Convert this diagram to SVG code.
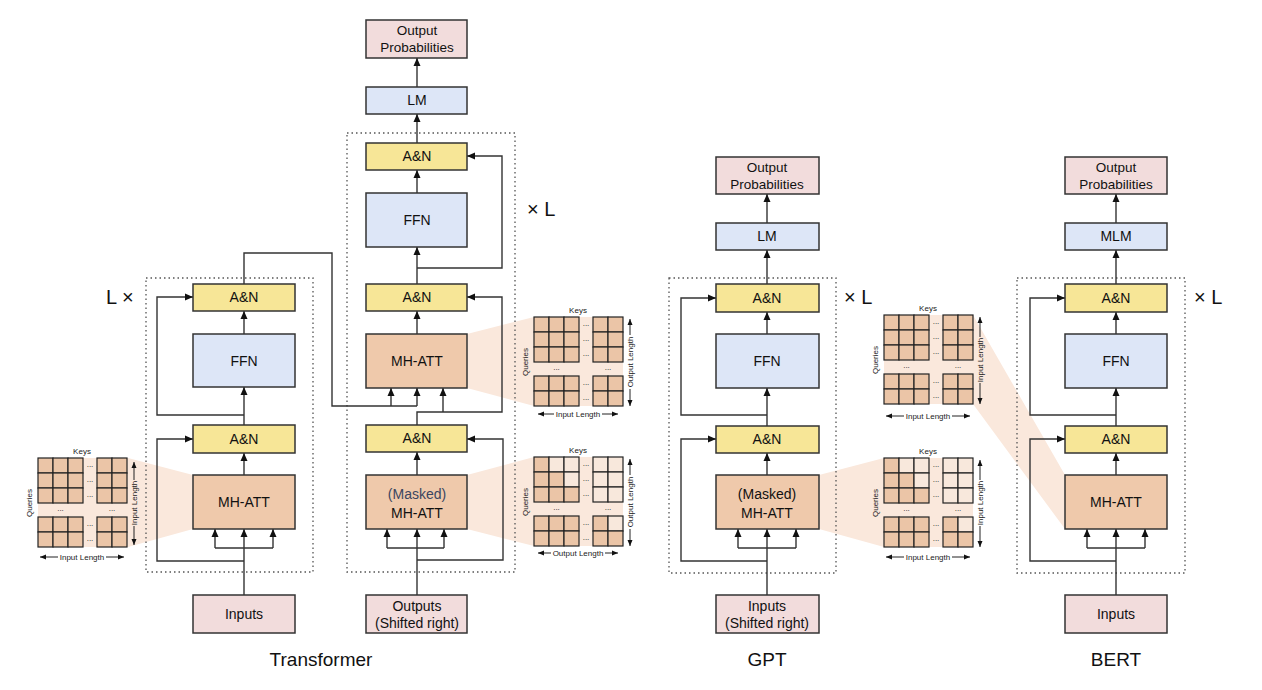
<svg xmlns="http://www.w3.org/2000/svg" xmlns:xlink="http://www.w3.org/1999/xlink" width="1262" height="690" viewBox="0 0 1262 690">
<style>
  .box { stroke: #333; stroke-width: 1.5; }
  .prob { fill: #f2dcdc; }
  .blue { fill: #dde6f7; }
  .an { fill: #f7e697; }
  .att { fill: #efc9ab; }
  .lbl { font-family: "Liberation Sans", Arial, sans-serif; font-size: 14px; fill: #111; text-anchor: middle; }
  .lbl2 { font-family: "Liberation Sans", Arial, sans-serif; font-size: 13.5px; fill: #111; text-anchor: middle; }
  .title { font-family: "Liberation Sans", Arial, sans-serif; font-size: 19px; fill: #111; text-anchor: middle; }
  .mult { font-family: "Liberation Sans", Arial, sans-serif; font-size: 20px; fill: #111; }
  .conn path { fill: none; stroke: #333; stroke-width: 1.4; }
  .dotted { fill: none; stroke: #555; stroke-width: 1.3; stroke-dasharray: 1.5 3; }
  .fan { fill: #fae8dc; }
  .cd { fill: #ebc5a7; stroke: #222; stroke-width: 1.2; }
  .cl { fill: #f8e8dc; stroke: #222; stroke-width: 1.2; }
  .small { font-family: "Liberation Sans", Arial, sans-serif; font-size: 8px; fill: #222; text-anchor: middle; }
  .dots { font-family: "Liberation Sans", Arial, sans-serif; font-size: 8px; fill: #222; text-anchor: middle; }
  .mline { fill: none; stroke: #222; stroke-width: 1; }
</style>
<defs>
  <marker id="arr" markerUnits="userSpaceOnUse" markerWidth="8" markerHeight="8" refX="8" refY="4" orient="auto">
    <path d="M0,0.5 L8,4 L0,7.5 z" fill="#111"/>
  </marker>
  <marker id="sarr" markerUnits="userSpaceOnUse" markerWidth="6" markerHeight="6" refX="6" refY="3" orient="auto">
    <path d="M0,0.5 L6,3 L0,5.5 z" fill="#111"/>
  </marker>
  <!-- full attention matrix grid, origin at top-left cell -->
  <g id="gridFull">
    <rect class="cd" x="0" y="0" width="15" height="15"/><rect class="cd" x="15" y="0" width="15" height="15"/><rect class="cd" x="30" y="0" width="15" height="15"/>
    <rect class="cd" x="0" y="15" width="15" height="15"/><rect class="cd" x="15" y="15" width="15" height="15"/><rect class="cd" x="30" y="15" width="15" height="15"/>
    <rect class="cd" x="0" y="30" width="15" height="15"/><rect class="cd" x="15" y="30" width="15" height="15"/><rect class="cd" x="30" y="30" width="15" height="15"/>
    <rect class="cd" x="59" y="0" width="15" height="15"/><rect class="cd" x="74" y="0" width="15" height="15"/>
    <rect class="cd" x="59" y="15" width="15" height="15"/><rect class="cd" x="74" y="15" width="15" height="15"/>
    <rect class="cd" x="59" y="30" width="15" height="15"/><rect class="cd" x="74" y="30" width="15" height="15"/>
    <rect class="cd" x="0" y="59" width="15" height="15"/><rect class="cd" x="15" y="59" width="15" height="15"/><rect class="cd" x="30" y="59" width="15" height="15"/>
    <rect class="cd" x="0" y="74" width="15" height="15"/><rect class="cd" x="15" y="74" width="15" height="15"/><rect class="cd" x="30" y="74" width="15" height="15"/>
    <rect class="cd" x="59" y="59" width="15" height="15"/><rect class="cd" x="74" y="59" width="15" height="15"/>
    <rect class="cd" x="59" y="74" width="15" height="15"/><rect class="cd" x="74" y="74" width="15" height="15"/>
  </g>
  <g id="gridMasked">
    <rect class="cd" x="0" y="0" width="15" height="15"/><rect class="cl" x="15" y="0" width="15" height="15"/><rect class="cl" x="30" y="0" width="15" height="15"/>
    <rect class="cd" x="0" y="15" width="15" height="15"/><rect class="cd" x="15" y="15" width="15" height="15"/><rect class="cl" x="30" y="15" width="15" height="15"/>
    <rect class="cd" x="0" y="30" width="15" height="15"/><rect class="cd" x="15" y="30" width="15" height="15"/><rect class="cd" x="30" y="30" width="15" height="15"/>
    <rect class="cl" x="59" y="0" width="15" height="15"/><rect class="cl" x="74" y="0" width="15" height="15"/>
    <rect class="cl" x="59" y="15" width="15" height="15"/><rect class="cl" x="74" y="15" width="15" height="15"/>
    <rect class="cl" x="59" y="30" width="15" height="15"/><rect class="cl" x="74" y="30" width="15" height="15"/>
    <rect class="cd" x="0" y="59" width="15" height="15"/><rect class="cd" x="15" y="59" width="15" height="15"/><rect class="cd" x="30" y="59" width="15" height="15"/>
    <rect class="cd" x="0" y="74" width="15" height="15"/><rect class="cd" x="15" y="74" width="15" height="15"/><rect class="cd" x="30" y="74" width="15" height="15"/>
    <rect class="cd" x="59" y="59" width="15" height="15"/><rect class="cl" x="74" y="59" width="15" height="15"/>
    <rect class="cd" x="59" y="74" width="15" height="15"/><rect class="cd" x="74" y="74" width="15" height="15"/>
  </g>
  <g id="mdots">
    <text class="dots" x="52" y="9">...</text>
    <text class="dots" x="52" y="24">...</text>
    <text class="dots" x="52" y="39">...</text>
    <text class="dots" x="52" y="68">...</text>
    <text class="dots" x="52" y="83">...</text>
    <text class="dots" x="22.5" y="53">...</text>
    <text class="dots" x="74" y="53">...</text>
  </g>
</defs>

<!-- attention fans -->
<g id="fans">
  <polygon class="fan" points="38,458 128,458 193,475 193,529 128,547 38,547"/>
  <polygon class="fan" points="467,334 534,317 623,317 623,406 534,406 467,388"/>
  <polygon class="fan" points="467,475 534,457 623,457 623,546 534,546 467,529"/>
  <polygon class="fan" points="819,475 884,458 973,458 973,547 884,547 819,529"/>
  <polygon class="fan" points="884,315 973,315 1065,475 1065,529 973,404 884,404"/>
</g>

<!-- attention matrices -->
<g id="matrix-encoder" transform="translate(38,458)">
  <use xlink:href="#gridFull" href="#gridFull"/>
  <use xlink:href="#mdots" href="#mdots"/>
  <text class="small" x="44" y="-4">Keys</text>
  <text class="small" transform="translate(-6,45) rotate(-90)">Queries</text>
  <text class="small" transform="translate(99,45) rotate(-90)">Input Length</text>
  <path class="mline" d="M96,22 V4" marker-end="url(#sarr)"/>
  <path class="mline" d="M96,68 V87" marker-end="url(#sarr)"/>
  <text class="small" x="44" y="102">Input Length</text>
  <path class="mline" d="M20,99 H2" marker-end="url(#sarr)"/>
  <path class="mline" d="M68,99 H86" marker-end="url(#sarr)"/>
</g>
<g id="matrix-cross" transform="translate(534,317)">
  <use xlink:href="#gridFull" href="#gridFull"/>
  <use xlink:href="#mdots" href="#mdots"/>
  <text class="small" x="44" y="-4">Keys</text>
  <text class="small" transform="translate(-6,45) rotate(-90)">Queries</text>
  <text class="small" transform="translate(99,45) rotate(-90)">Output Length</text>
  <path class="mline" d="M96,18 V2" marker-end="url(#sarr)"/>
  <path class="mline" d="M96,72 V89" marker-end="url(#sarr)"/>
  <text class="small" x="44" y="100">Input Length</text>
  <path class="mline" d="M20,97 H4" marker-end="url(#sarr)"/>
  <path class="mline" d="M68,97 H84" marker-end="url(#sarr)"/>
</g>
<g id="matrix-masked-dec" transform="translate(534,457)">
  <use xlink:href="#gridMasked" href="#gridMasked"/>
  <use xlink:href="#mdots" href="#mdots"/>
  <text class="small" x="44" y="-4">Keys</text>
  <text class="small" transform="translate(-6,45) rotate(-90)">Queries</text>
  <text class="small" transform="translate(99,45) rotate(-90)">Output Length</text>
  <path class="mline" d="M96,18 V2" marker-end="url(#sarr)"/>
  <path class="mline" d="M96,72 V89" marker-end="url(#sarr)"/>
  <text class="small" x="44" y="99">Output Length</text>
  <path class="mline" d="M17,96 H4" marker-end="url(#sarr)"/>
  <path class="mline" d="M71,96 H84" marker-end="url(#sarr)"/>
</g>
<g id="matrix-bert" transform="translate(884,315)">
  <use xlink:href="#gridFull" href="#gridFull"/>
  <use xlink:href="#mdots" href="#mdots"/>
  <text class="small" x="44" y="-4">Keys</text>
  <text class="small" transform="translate(-6,45) rotate(-90)">Queries</text>
  <text class="small" transform="translate(99,45) rotate(-90)">Input Length</text>
  <path class="mline" d="M96,22 V2" marker-end="url(#sarr)"/>
  <path class="mline" d="M96,68 V89" marker-end="url(#sarr)"/>
  <text class="small" x="44" y="104">Input Length</text>
  <path class="mline" d="M20,101 H2" marker-end="url(#sarr)"/>
  <path class="mline" d="M68,101 H86" marker-end="url(#sarr)"/>
</g>
<g id="matrix-gpt" transform="translate(884,458)">
  <use xlink:href="#gridMasked" href="#gridMasked"/>
  <use xlink:href="#mdots" href="#mdots"/>
  <text class="small" x="44" y="-4">Keys</text>
  <text class="small" transform="translate(-6,45) rotate(-90)">Queries</text>
  <text class="small" transform="translate(99,45) rotate(-90)">Input Length</text>
  <path class="mline" d="M96,22 V2" marker-end="url(#sarr)"/>
  <path class="mline" d="M96,68 V89" marker-end="url(#sarr)"/>
  <text class="small" x="44" y="102">Input Length</text>
  <path class="mline" d="M20,99 H2" marker-end="url(#sarr)"/>
  <path class="mline" d="M68,99 H86" marker-end="url(#sarr)"/>
</g>

<!-- dotted layer boxes -->
<g id="layer-boxes">
  <rect class="dotted" x="146" y="278" width="167" height="294"/>
  <rect class="dotted" x="347" y="133" width="168" height="439"/>
  <rect class="dotted" x="669" y="278" width="167" height="295"/>
  <rect class="dotted" x="1017" y="278" width="168" height="295"/>
  <text class="mult" x="106" y="304">L ×</text>
  <text class="mult" x="527" y="216">× L</text>
  <text class="mult" x="844" y="304">× L</text>
  <text class="mult" x="1194" y="304">× L</text>
</g>

<!-- connectors -->
<g id="connectors" class="conn">
  <!-- encoder -->
  <path d="M244,595 V529" marker-end="url(#arr)"/>
  <path d="M215,548 H273"/>
  <path d="M215,548 V529" marker-end="url(#arr)"/>
  <path d="M273,548 V529" marker-end="url(#arr)"/>
  <path d="M244,561 H157 V439 H193" marker-end="url(#arr)"/>
  <path d="M244,475 V453" marker-end="url(#arr)"/>
  <path d="M244,425 V387" marker-end="url(#arr)"/>
  <path d="M244,415 H157 V297 H193" marker-end="url(#arr)"/>
  <path d="M244,334 V311" marker-end="url(#arr)"/>
  <path d="M244,284 V253 H332 V406 H417"/>
  <path d="M391,406 V388" marker-end="url(#arr)"/>
  <path d="M417,406 V388" marker-end="url(#arr)"/>
  <!-- decoder -->
  <path d="M417,595 V529" marker-end="url(#arr)"/>
  <path d="M387,548 H444"/>
  <path d="M387,548 V529" marker-end="url(#arr)"/>
  <path d="M444,548 V529" marker-end="url(#arr)"/>
  <path d="M417,560 H503 V439 H467" marker-end="url(#arr)"/>
  <path d="M417,475 V452" marker-end="url(#arr)"/>
  <path d="M417,425 V412 H502 V297 H467" marker-end="url(#arr)"/>
  <path d="M443,412 V388" marker-end="url(#arr)"/>
  <path d="M417,334 V311" marker-end="url(#arr)"/>
  <path d="M417,284 V247" marker-end="url(#arr)"/>
  <path d="M417,268 H502 V156 H467" marker-end="url(#arr)"/>
  <path d="M417,193 V170" marker-end="url(#arr)"/>
  <path d="M417,143 V114" marker-end="url(#arr)"/>
  <path d="M417,87 V58" marker-end="url(#arr)"/>
  <!-- GPT -->
  <path d="M767,595 V529" marker-end="url(#arr)"/>
  <path d="M738,548 H796"/>
  <path d="M738,548 V529" marker-end="url(#arr)"/>
  <path d="M796,548 V529" marker-end="url(#arr)"/>
  <path d="M767,561 H681 V439 H716" marker-end="url(#arr)"/>
  <path d="M767,475 V453" marker-end="url(#arr)"/>
  <path d="M767,426 V388" marker-end="url(#arr)"/>
  <path d="M767,415 H681 V298 H716" marker-end="url(#arr)"/>
  <path d="M767,334 V312" marker-end="url(#arr)"/>
  <path d="M767,284 V250" marker-end="url(#arr)"/>
  <path d="M767,223 V194" marker-end="url(#arr)"/>
  <!-- BERT -->
  <path d="M1116,595 V529" marker-end="url(#arr)"/>
  <path d="M1087,548 H1145"/>
  <path d="M1087,548 V529" marker-end="url(#arr)"/>
  <path d="M1145,548 V529" marker-end="url(#arr)"/>
  <path d="M1116,561 H1030 V439 H1065" marker-end="url(#arr)"/>
  <path d="M1116,475 V453" marker-end="url(#arr)"/>
  <path d="M1116,426 V388" marker-end="url(#arr)"/>
  <path d="M1116,415 H1030 V298 H1065" marker-end="url(#arr)"/>
  <path d="M1116,334 V312" marker-end="url(#arr)"/>
  <path d="M1116,284 V250" marker-end="url(#arr)"/>
  <path d="M1116,223 V194" marker-end="url(#arr)"/>
</g>

<!-- Transformer encoder nodes -->
<g id="enc-inputs"><rect class="box prob" x="193" y="595" width="102" height="38"/><text class="lbl" x="244" y="619">Inputs</text></g>
<g id="enc-mhatt"><rect class="box att" x="193" y="475" width="102" height="54"/><text class="lbl" x="244" y="507">MH-ATT</text></g>
<g id="enc-an1"><rect class="box an" x="193" y="425" width="102" height="28"/><text class="lbl" x="244" y="444">A&amp;N</text></g>
<g id="enc-ffn"><rect class="box blue" x="193" y="334" width="102" height="53"/><text class="lbl" x="244" y="366">FFN</text></g>
<g id="enc-an2"><rect class="box an" x="193" y="284" width="102" height="27"/><text class="lbl" x="244" y="302">A&amp;N</text></g>

<!-- Transformer decoder nodes -->
<g id="dec-outputs"><rect class="box prob" x="366" y="595" width="101" height="38"/><text class="lbl" x="417" y="611">Outputs</text><text class="lbl" x="417" y="628">(Shifted right)</text></g>
<g id="dec-masked"><rect class="box att" x="366" y="475" width="101" height="54"/><text class="lbl" x="417" y="499" style="fill:#3b4660">(Masked)</text><text class="lbl" x="417" y="518">MH-ATT</text></g>
<g id="dec-an1"><rect class="box an" x="366" y="425" width="101" height="27"/><text class="lbl" x="417" y="443">A&amp;N</text></g>
<g id="dec-mhatt"><rect class="box att" x="366" y="334" width="101" height="54"/><text class="lbl" x="417" y="366">MH-ATT</text></g>
<g id="dec-an2"><rect class="box an" x="366" y="284" width="101" height="27"/><text class="lbl" x="417" y="302">A&amp;N</text></g>
<g id="dec-ffn"><rect class="box blue" x="366" y="193" width="101" height="54"/><text class="lbl" x="417" y="225">FFN</text></g>
<g id="dec-an3"><rect class="box an" x="366" y="143" width="101" height="27"/><text class="lbl" x="417" y="161">A&amp;N</text></g>
<g id="dec-lm"><rect class="box blue" x="366" y="87" width="101" height="27"/><text class="lbl" x="417" y="105">LM</text></g>
<g id="dec-outprob"><rect class="box prob" x="366" y="20" width="101" height="38"/><text class="lbl2" x="417" y="35">Output</text><text class="lbl2" x="417" y="52">Probabilities</text></g>

<!-- GPT nodes -->
<g id="gpt-inputs"><rect class="box prob" x="716" y="595" width="103" height="38"/><text class="lbl" x="767" y="611">Inputs</text><text class="lbl" x="767" y="628">(Shifted right)</text></g>
<g id="gpt-masked"><rect class="box att" x="716" y="475" width="103" height="54"/><text class="lbl" x="767" y="499">(Masked)</text><text class="lbl" x="767" y="518">MH-ATT</text></g>
<g id="gpt-an1"><rect class="box an" x="716" y="426" width="103" height="27"/><text class="lbl" x="767" y="444">A&amp;N</text></g>
<g id="gpt-ffn"><rect class="box blue" x="716" y="334" width="103" height="54"/><text class="lbl" x="767" y="366">FFN</text></g>
<g id="gpt-an2"><rect class="box an" x="716" y="284" width="103" height="28"/><text class="lbl" x="767" y="303">A&amp;N</text></g>
<g id="gpt-lm"><rect class="box blue" x="716" y="223" width="103" height="27"/><text class="lbl" x="767" y="241">LM</text></g>
<g id="gpt-outprob"><rect class="box prob" x="716" y="157" width="103" height="37"/><text class="lbl2" x="767" y="172">Output</text><text class="lbl2" x="767" y="189">Probabilities</text></g>

<!-- BERT nodes -->
<g id="bert-inputs"><rect class="box prob" x="1065" y="595" width="102" height="38"/><text class="lbl" x="1116" y="619">Inputs</text></g>
<g id="bert-mhatt"><rect class="box att" x="1065" y="475" width="102" height="54"/><text class="lbl" x="1116" y="507">MH-ATT</text></g>
<g id="bert-an1"><rect class="box an" x="1065" y="426" width="102" height="27"/><text class="lbl" x="1116" y="444">A&amp;N</text></g>
<g id="bert-ffn"><rect class="box blue" x="1065" y="334" width="102" height="54"/><text class="lbl" x="1116" y="366">FFN</text></g>
<g id="bert-an2"><rect class="box an" x="1065" y="284" width="102" height="28"/><text class="lbl" x="1116" y="303">A&amp;N</text></g>
<g id="bert-mlm"><rect class="box blue" x="1065" y="223" width="102" height="27"/><text class="lbl" x="1116" y="241">MLM</text></g>
<g id="bert-outprob"><rect class="box prob" x="1065" y="157" width="102" height="37"/><text class="lbl2" x="1116" y="172">Output</text><text class="lbl2" x="1116" y="189">Probabilities</text></g>

<!-- titles -->
<g id="titles">
  <text class="title" x="321" y="666">Transformer</text>
  <text class="title" x="767" y="666">GPT</text>
  <text class="title" x="1116" y="666">BERT</text>
</g>
</svg>
